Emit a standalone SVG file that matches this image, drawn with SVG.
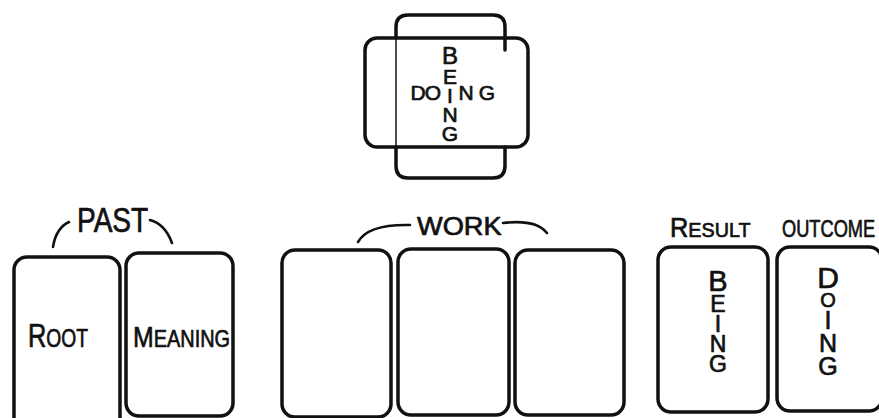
<svg xmlns="http://www.w3.org/2000/svg" width="879" height="418" viewBox="0 0 879 418">
<style>
.box{fill:none;stroke:#111;stroke-width:3.5;stroke-linejoin:round;stroke-linecap:round}
.thin{fill:none;stroke:#222;stroke-width:1.6;stroke-linecap:round}
.br{fill:none;stroke:#111;stroke-width:2.6;stroke-linecap:round}
text{font-family:"Liberation Sans","DejaVu Sans",sans-serif;fill:#111;stroke:#111;stroke-width:0.7;stroke-linejoin:round}
.vert{writing-mode:vertical-rl;text-orientation:upright}
</style>
<rect width="879" height="418" fill="#fff"/>
<g id="cross">
  <path class="box" d="M396,38 L396,27 Q396,15 408,15 L493,15 Q505,15 505,27 L505,50"/>
  <path class="box" d="M396,147 L396,166 Q396,178 408,178 L493,178 Q505,178 505,166 L505,147"/>
  <line class="thin" x1="396" y1="38" x2="396" y2="147"/>
  <rect class="box" x="365" y="38" width="163" height="109" rx="12"/>
  <text x="418 433 450 466 487" y="100" font-size="21" text-anchor="middle">DO<tspan fill-opacity="0" stroke-opacity="0">I</tspan>NG</text>
  <text class="vert" x="450" y="42" font-size="21" letter-spacing="-4"><tspan font-size="24">B</tspan>EING</text>
</g>
<g id="past">
  <path class="br" d="M53,247 Q56,228 69,222"/>
  <path class="br" d="M150,220 Q165,224 172,243"/>
  <text transform="translate(77,232) scale(0.78,1)" font-size="36">PAST</text>
</g>
<g id="root">
  <rect class="box" x="14" y="257" width="106" height="175" rx="13"/>
  <text transform="translate(28,347) scale(0.77,1)"><tspan font-size="33">R</tspan><tspan font-size="25">OOT</tspan></text>
</g>
<g id="meaning">
  <rect class="box" x="126" y="253" width="107" height="163" rx="13"/>
  <text transform="translate(133,347) scale(0.83,1)"><tspan font-size="30">M</tspan><tspan font-size="24">EANING</tspan></text>
</g>
<g id="work-label">
  <path class="br" d="M358,242 Q368,224 410,225"/>
  <path class="br" d="M503,223 Q536,219 547,233"/>
  <text transform="translate(417,235) scale(1.09,1)" font-size="25">WORK</text>
</g>
<g id="work1"><rect class="box" x="282" y="250" width="109" height="167" rx="13"/></g>
<g id="work2"><rect class="box" x="398" y="249" width="111" height="166" rx="13"/></g>
<g id="work3"><rect class="box" x="515" y="250" width="109" height="165" rx="13"/></g>
<g id="result">
  <text transform="translate(670,237) scale(0.94,1)"><tspan font-size="27">R</tspan><tspan font-size="21">ESULT</tspan></text>
  <rect class="box" x="658" y="247" width="110" height="165" rx="13"/>
  <text class="vert" x="718" y="265" font-size="23" letter-spacing="-6"><tspan font-size="29">B</tspan>EING</text>
</g>
<g id="outcome">
  <text transform="translate(782,237) scale(0.76,1)" font-size="24">OUTCOME</text>
  <rect class="box" x="777" y="247" width="105" height="164" rx="13"/>
  <text class="vert" x="828" y="261" font-size="25" letter-spacing="-5"><tspan font-size="30">D</tspan><tspan font-size="20">O</tspan>ING</text>
</g>
</svg>
